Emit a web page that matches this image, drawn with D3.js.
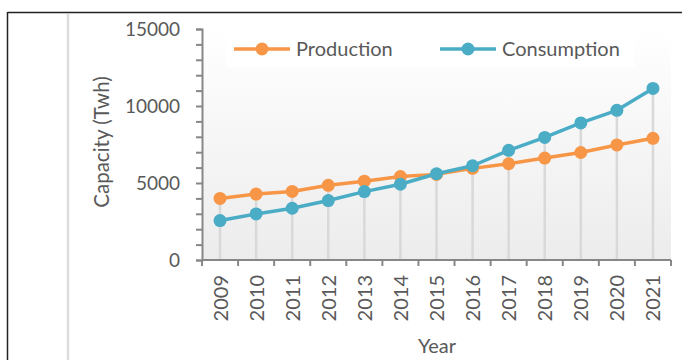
<!DOCTYPE html>
<html>
<head>
<meta charset="utf-8">
<script src="https://cdn.jsdelivr.net/npm/d3@7/dist/d3.min.js"></script>
<style>
  html, body { margin: 0; padding: 0; background: #fff; }
  svg { display: block; }
  text { font-family: Lato, "Open Sans", sans-serif; fill: #595959; }
</style>
</head>
<body>
<svg id="chart" width="682" height="360"></svg>
<script>
// Annual electricity production and consumption (TWh)
const years = ["2009","2010","2011","2012","2013","2014","2015","2016","2017","2018","2019","2020","2021"];
const production  = [4000, 4280, 4450, 4850, 5120, 5420, 5560, 5950, 6250, 6620, 6980, 7470, 7900];
const consumption = [2560, 2990, 3360, 3860, 4440, 4920, 5600, 6120, 7120, 7960, 8900, 9720, 11140];
const yTicks = [0, 5000, 10000, 15000];
const seriesNames = ["Production", "Consumption"];
const seriesColors = ["#F79646", "#4BACC6"];

const svg = d3.select("#chart");
const plot = { left: 202, right: 671, top: 29, bottom: 260 };

// frame lines around the figure
svg.append("line").attr("x1", 7.5).attr("x2", 682).attr("y1", 12.5).attr("y2", 12.5)
  .attr("stroke", "#222").attr("stroke-width", 1.5);
svg.append("line").attr("x1", 7.5).attr("x2", 7.5).attr("y1", 12).attr("y2", 360)
  .attr("stroke", "#222").attr("stroke-width", 1.5);
svg.append("line").attr("x1", 68).attr("x2", 68).attr("y1", 14).attr("y2", 360)
  .attr("stroke", "#dcdcdc").attr("stroke-width", 2.5);

const x = d3.scaleBand().domain(years).range([plot.left, plot.right]);
const y = d3.scaleLinear().domain([0, 15000]).range([plot.bottom, plot.top]);

// plot area with soft vertical gradient
const defs = svg.append("defs");
const grad = defs.append("linearGradient").attr("id", "plotFill")
  .attr("x1", 0).attr("x2", 0).attr("y1", 0).attr("y2", 1);
grad.append("stop").attr("offset", "0%").attr("stop-color", "#ffffff");
grad.append("stop").attr("offset", "100%").attr("stop-color", "#ececec");
svg.append("rect")
  .attr("x", plot.left).attr("y", plot.top)
  .attr("width", plot.right - plot.left).attr("height", plot.bottom - plot.top)
  .attr("fill", "url(#plotFill)");

// drop lines from the higher point of each year
const cx = d => x(d) + x.bandwidth() / 2;
svg.append("g").selectAll("line").data(years).join("line")
  .attr("x1", cx).attr("x2", cx)
  .attr("y1", (d, i) => y(Math.max(production[i], consumption[i])))
  .attr("y2", plot.bottom)
  .attr("stroke", "#d9d9d9").attr("stroke-width", 2.5);

// legend box
svg.append("rect").attr("x", 226).attr("y", 31).attr("width", 408).attr("height", 36).attr("fill", "#fff");

// series
const allSeries = [production, consumption];
allSeries.forEach((vals, s) => {
  const line = d3.line().x((d, i) => cx(years[i])).y(d => y(d));
  svg.append("path").datum(vals).attr("d", line)
    .attr("fill", "none").attr("stroke", seriesColors[s]).attr("stroke-width", 3.5)
    .attr("stroke-linejoin", "round");
  svg.append("g").selectAll("circle").data(vals).join("circle")
    .attr("cx", (d, i) => cx(years[i])).attr("cy", d => y(d)).attr("r", 6.5)
    .attr("fill", seriesColors[s]);
});

// y axis: minor ticks every 1000, labels every 5000
const yAxis = d3.axisLeft(y).tickValues(d3.range(0, 15001, 1000)).tickSize(6)
  .tickFormat(d => yTicks.includes(d) ? d : "");
const gy = svg.append("g").attr("transform", `translate(${plot.left},0)`).call(yAxis);
gy.select(".domain").attr("stroke", "#878787").attr("stroke-width", 2);
gy.selectAll(".tick line").attr("stroke", "#878787").attr("stroke-width", 2);
gy.selectAll(".tick text").attr("x", -22).attr("font-size", 19).style("fill", "#595959")
  .style("font-family", "Lato, sans-serif");

// x axis: ticks on band edges, rotated year labels
const edges = d3.range(years.length + 1).map(i => plot.left + i * x.bandwidth());
const gx = svg.append("g");
gx.append("line").attr("x1", plot.left).attr("x2", plot.right)
  .attr("y1", plot.bottom).attr("y2", plot.bottom)
  .attr("stroke", "#878787").attr("stroke-width", 2);
gx.selectAll("line.tk").data(edges).join("line").attr("class", "tk")
  .attr("x1", d => d).attr("x2", d => d).attr("y1", plot.bottom).attr("y2", plot.bottom + 6)
  .attr("stroke", "#878787").attr("stroke-width", 2);
gx.selectAll("text").data(years).join("text")
  .attr("transform", d => `translate(${cx(d) + 7.5},275) rotate(-90)`)
  .attr("text-anchor", "end").attr("font-size", 20)
  .text(d => d);

// axis titles
svg.append("text").attr("transform", "translate(109,142) rotate(-90)")
  .attr("text-anchor", "middle").attr("font-size", 20.5).text("Capacity (Twh)");
svg.append("text").attr("x", 437).attr("y", 353)
  .attr("text-anchor", "middle").attr("font-size", 20).text("Year");

// legend
const legendX = [234, 440];
seriesNames.forEach((name, s) => {
  const g = svg.append("g");
  g.append("line").attr("x1", legendX[s]).attr("x2", legendX[s] + 56)
    .attr("y1", 49).attr("y2", 49).attr("stroke", seriesColors[s]).attr("stroke-width", 3.5);
  g.append("circle").attr("cx", legendX[s] + 28).attr("cy", 49).attr("r", 6.5).attr("fill", seriesColors[s]);
  g.append("text").attr("x", legendX[s] + 62).attr("y", 56).attr("font-size", 20).text(name);
});
</script>
</body>
</html>
